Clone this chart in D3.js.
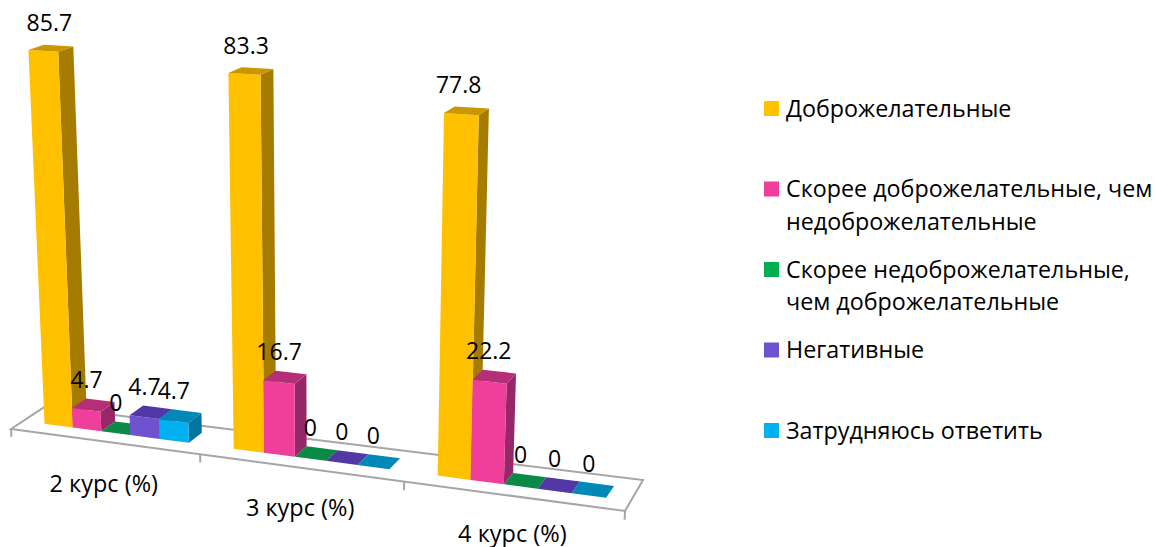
<!DOCTYPE html>
<html>
<head>
<meta charset="utf-8">
<script src="https://cdn.jsdelivr.net/npm/d3@7"></script>
<style>
html, body { margin: 0; padding: 0; background: #fff; }
text { font-family: "Open Sans", sans-serif; fill: #000; }
</style>
</head>
<body>
<div id="chart"></div>
<script>
const categories = ["2 курс (%)", "3 курс (%)", "4 курс (%)"];
const seriesNames = [
    "Доброжелательные",
    "Скорее доброжелательные, чем недоброжелательные",
    "Скорее недоброжелательные, чем доброжелательные",
    "Негативные",
    "Затрудняюсь ответить"
];
const legendLines = [
    ["Доброжелательные"],
    ["Скорее доброжелательные, чем", "недоброжелательные"],
    ["Скорее недоброжелательные,", "чем доброжелательные"],
    ["Негативные"],
    ["Затрудняюсь ответить"]
];
const friendly = [85.7, 83.3, 77.8];
const ratherFriendly = [4.7, 16.7, 22.2];
const ratherUnfriendly = [0, 0, 0];
const negative = [4.7, 0, 0];
const noAnswer = [4.7, 0, 0];
const seriesValues = [friendly, ratherFriendly, ratherUnfriendly, negative, noAnswer];

const frontColors = ["#ffc000", "#f03e9b", "#00b050", "#6e52d0", "#00b0f0"];
const topColors = ["#c99700", "#b52f78", "#0a8a45", "#5238a5", "#0088b8"];
const sideColors = ["#a67c00", "#96286a", "#067238", "#44308a", "#0075a0"];

const width = 1156;
const height = 547;

const svg = d3.select("#chart")
    .append("svg")
    .attr("width", width)
    .attr("height", height)
    .style("display", "block");

// floor outline on screen: front-left, front-right, back-right, back-left
const floor = [[11, 429], [625, 511], [643, 480], [45, 406.6]];
const vanish = [325, 6950]; // verticals converge down here
const heightFactor = -0.000636;
const g = -0.11; // perspective along the category axis
const h = 0.03;  // perspective into the depth

const a = floor[1][0] * (1 + g) - floor[0][0];
const b = floor[3][0] * (1 + h) - floor[0][0];
const d = floor[1][1] * (1 + g) - floor[0][1];
const e = floor[3][1] * (1 + h) - floor[0][1];

// u along the category axis, v into the depth, 0..1; val in chart units
function project(u, val, v) {
    const l = heightFactor * val;
    const w = g * u + h * v + 1 + l;
    return [
        (a * u + b * v + floor[0][0] + l * vanish[0]) / w,
        (d * u + e * v + floor[0][1] + l * vanish[1]) / w
    ];
}

const xGroup = d3.scaleBand().domain(categories).range([0, 1]);
const xSeries = d3.scaleBand().domain(seriesNames).range([0.118, 0.888].map(t => t * xGroup.bandwidth()));
const yValue = d3.scaleLinear().domain([0, 100]).range([0, 100]);
const zFront = 0.35;
const zBack = 0.78;

const poly = d3.line();

svg.append("path")
    .attr("d", poly(floor) + "Z")
    .attr("fill", "#fff")
    .attr("stroke", "#a6a6a6")
    .attr("stroke-width", 2);

// ticks at group boundaries
d3.range(categories.length + 1).forEach(i => {
    const u = i / categories.length;
    svg.append("path")
        .attr("d", poly([project(u, 0, 0), project(u, -1.9, 0)]))
        .attr("stroke", "#a6a6a6")
        .attr("stroke-width", 2)
        .attr("fill", "none");
});

categories.forEach((cat, c) => {
    seriesNames.forEach((name, s) => {
        const val = yValue(seriesValues[s][c]);
        const x0 = xGroup(cat) + xSeries(name);
        const x1 = x0 + xSeries.bandwidth();
        const g1 = svg.append("g");

        if (val > 0) {
            g1.append("path")
                .attr("d", poly([project(x1, 0, zFront), project(x1, 0, zBack), project(x1, val, zBack), project(x1, val, zFront)]) + "Z")
                .attr("fill", sideColors[s]);
            g1.append("path")
                .attr("d", poly([project(x0, 0, zFront), project(x1, 0, zFront), project(x1, val, zFront), project(x0, val, zFront)]) + "Z")
                .attr("fill", frontColors[s]);
        }
        g1.append("path")
            .attr("d", poly([project(x0, val, zFront), project(x1, val, zFront), project(x1, val, zBack), project(x0, val, zBack)]) + "Z")
            .attr("fill", topColors[s]);
    });
});

// value labels go on top of all the bars
categories.forEach((cat, c) => {
    seriesNames.forEach((name, s) => {
        const raw = seriesValues[s][c];
        const xm = xGroup(cat) + xSeries(name) + xSeries.bandwidth() / 2;
        const px = project(xm, raw, zFront)[0];
        svg.append("text")
            .attr("x", px + (vanish[0] - px) * raw * 0.00025)
            .attr("y", project(xm, raw, zBack)[1] - 12 - raw * 0.03)
            .attr("text-anchor", "middle")
            .attr("font-size", "23px")
            .text(raw);
    });
    const p = project(xGroup(cat) + xGroup.bandwidth() / 2, 0, 0);
    svg.append("text")
        .attr("x", p[0])
        .attr("y", p[1] + 51 - 2.4 * c)
        .attr("text-anchor", "middle")
        .attr("font-size", "23.5px")
        .text(cat);
});

const legendY = d3.scalePoint().domain(seriesNames).range([108.5, 430.5]);

seriesNames.forEach((name, s) => {
    svg.append("rect")
        .attr("x", 764)
        .attr("y", legendY(name) - 7.5)
        .attr("width", 15)
        .attr("height", 15)
        .attr("fill", frontColors[s]);
    legendLines[s].forEach((line, i) => {
        svg.append("text")
            .attr("x", 786)
            .attr("y", legendY(name) + 8 + i * 32.5)
            .attr("font-size", "23.3px")
            .text(line);
    });
});
</script>
</body>
</html>
